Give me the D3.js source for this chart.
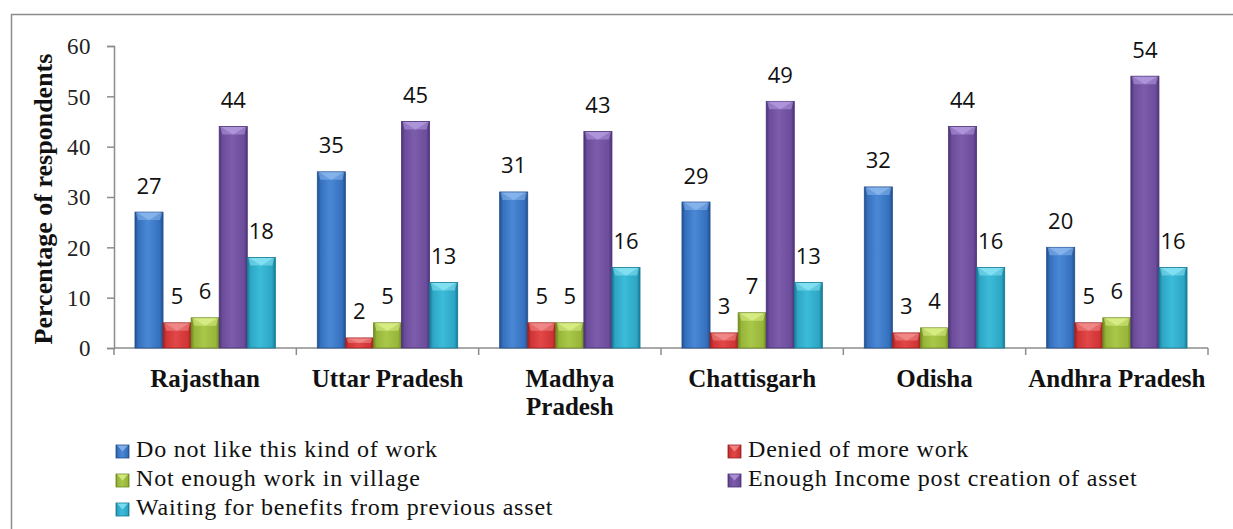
<!DOCTYPE html>
<html><head><meta charset="utf-8">
<script src="https://cdn.jsdelivr.net/npm/d3@7"></script>
<style>
body{margin:0;background:#fff;}
svg{display:block;}
</style></head>
<body>
<svg id="chart" width="1233" height="529"></svg>
<script>
const categories = [["Rajasthan"],["Uttar Pradesh"],["Madhya","Pradesh"],["Chattisgarh"],["Odisha"],["Andhra Pradesh"]];
const categoryNames = ["Rajasthan","Uttar Pradesh","Madhya Pradesh","Chattisgarh","Odisha","Andhra Pradesh"];
const seriesNames = ["Do not like this kind of work","Denied of more work","Not enough work in village","Enough Income post creation of asset","Waiting for benefits from previous asset"];
const doNotLike = [27,35,31,29,32,20];
const denied = [5,2,5,3,3,5];
const notEnough = [6,5,5,7,4,6];
const enoughIncome = [44,45,43,49,44,54];
const waiting = [18,13,16,13,16,16];
const yTicks = [0,10,20,30,40,50,60];
const seriesValues = [doNotLike, denied, notEnough, enoughIncome, waiting];

const colors = [
  {dark:"#23508f", base:"#3570bd", light:"#4a88d6", top:"#8db8ee"},
  {dark:"#9c2222", base:"#d03434", light:"#e24848", top:"#f29090"},
  {dark:"#6f8a20", base:"#97b538", light:"#a9c84a", top:"#dcf08a"},
  {dark:"#4d3377", base:"#6c4d9c", light:"#7c5cab", top:"#b49ce0"},
  {dark:"#167a95", base:"#2ea6c4", light:"#3bbcd9", top:"#8ae4f4"}
];

const serifFont = "'Liberation Serif', 'Times New Roman', serif";
const sansFont = "'Open Sans', 'Liberation Sans', sans-serif";

const svg = d3.select("#chart");
const defs = svg.append("defs");
colors.forEach((c,i)=>{
  const g = defs.append("linearGradient").attr("id","g"+i).attr("x1","0").attr("x2","1").attr("y1","0").attr("y2","0");
  g.append("stop").attr("offset","0%").attr("stop-color",c.dark);
  g.append("stop").attr("offset","12%").attr("stop-color",c.base);
  g.append("stop").attr("offset","45%").attr("stop-color",c.light);
  g.append("stop").attr("offset","88%").attr("stop-color",c.base);
  g.append("stop").attr("offset","100%").attr("stop-color",c.dark);
});

// outer border
svg.append("rect").attr("x",11.5).attr("y",14.5).attr("width",1260).attr("height",560)
  .attr("fill","none").attr("stroke","#8c8c8c").attr("stroke-width",1.5);

const pLeft = 114, pRight = 1208, pTop = 46, pBottom = 348;
const x0 = d3.scaleBand().domain(categoryNames).range([pLeft,pRight]).paddingInner(0).paddingOuter(0);
const x1 = d3.scaleBand().domain(seriesNames).range([x0.bandwidth()*0.115, x0.bandwidth()*0.885]).padding(0);
const y = d3.scaleLinear().domain([0,60]).range([pBottom,pTop]);

const axisColor = "#8c8c8c";
// y axis
const yAxis = svg.append("g").attr("transform",`translate(${pLeft},0)`)
  .call(d3.axisLeft(y).tickValues(yTicks).tickSize(7).tickPadding(16).tickFormat(d3.format("d")));
yAxis.attr("font-family",null).attr("font-size",null);
yAxis.select(".domain").attr("stroke",axisColor).attr("stroke-width",1.5);
yAxis.selectAll(".tick line").attr("stroke",axisColor).attr("stroke-width",1.5);
yAxis.selectAll(".tick text").style("font-family",serifFont).style("font-size","23px")
  .style("letter-spacing","0.5px").attr("fill","#222").attr("dy","0.34em");

// x axis line and ticks
svg.append("line").attr("x1",pLeft).attr("x2",pRight).attr("y1",pBottom).attr("y2",pBottom)
  .attr("stroke",axisColor).attr("stroke-width",1.5);
const bounds = categoryNames.map(c=>x0(c)).concat([pRight]);
svg.selectAll(".xtick").data(bounds).enter().append("line")
  .attr("x1",d=>d).attr("x2",d=>d).attr("y1",pBottom).attr("y2",pBottom+7)
  .attr("stroke",axisColor).attr("stroke-width",1.5);

// category labels
categoryNames.forEach((c,i)=>{
  const t = svg.append("text").attr("x",x0(c)+x0.bandwidth()/2).attr("y",387)
    .attr("text-anchor","middle").style("font-family",serifFont)
    .style("font-weight","bold").style("font-size","25px").attr("fill","#111");
  categories[i].forEach((line,j)=>{
    t.append("tspan").attr("x",x0(c)+x0.bandwidth()/2).attr("dy",j===0?0:28).text(line);
  });
});

// y title
svg.append("text").attr("transform",`translate(52,${(pTop+pBottom)/2+2}) rotate(-90)`)
  .attr("text-anchor","middle").style("font-family",serifFont)
  .style("font-weight","bold").style("font-size","26px").attr("fill","#111").text("Percentage of respondents");

// bars
const bevel = 8;
seriesNames.forEach((s,si)=>{
  const g = svg.append("g");
  const vals = seriesValues[si];
  vals.forEach((v,ci)=>{
    const bx = x0(categoryNames[ci]) + x1(s);
    const bw = x1.bandwidth();
    const by = y(v);
    const bh = pBottom - by;
    g.append("rect").attr("x",bx).attr("y",by).attr("width",bw).attr("height",bh)
      .attr("fill",`url(#g${si})`).attr("stroke",colors[si].dark).attr("stroke-width",0.8);
    const bv = Math.min(bevel, bh/2);
    g.append("polygon").attr("points",[[bx+1,by+0.5],[bx+bw-1,by+0.5],[bx+bw-3,by+bv],[bx+3,by+bv]].map(p=>p.join(",")).join(" "))
      .attr("fill",colors[si].top).attr("opacity",0.55);
    g.append("polygon").attr("points",[[bx+2,by+0.5],[bx+bw-2,by+0.5],[bx+bw/2,by+bv]].map(p=>p.join(",")).join(" "))
      .attr("fill",colors[si].top).attr("opacity",0.75);
    g.append("text").attr("x",bx+bw/2).attr("y",by-18.5).attr("text-anchor","middle")
      .style("font-family",sansFont).style("font-size","22px").attr("fill","#111")
      .text(v);
  });
});

// legend
const legendPos = [[116,457],[728,457],[116,486],[728,486],[116,515]];
seriesNames.forEach((s,si)=>{
  const [lx,ly] = legendPos[si];
  svg.append("rect").attr("x",lx).attr("y",ly-12).attr("width",13).attr("height",13)
    .attr("fill",`url(#g${si})`).attr("stroke",colors[si].dark).attr("stroke-width",0.8);
  svg.append("polygon").attr("points",[[lx+1,ly-11.5],[lx+12,ly-11.5],[lx+6.5,ly-5.5]].map(p=>p.join(",")).join(" "))
    .attr("fill",colors[si].top).attr("opacity",0.8);
  svg.append("text").attr("x",lx+20).attr("y",ly).style("font-family",serifFont)
    .style("font-size","24px").style("letter-spacing","0.8px").attr("fill","#111").text(s);
});
</script>
</body></html>
